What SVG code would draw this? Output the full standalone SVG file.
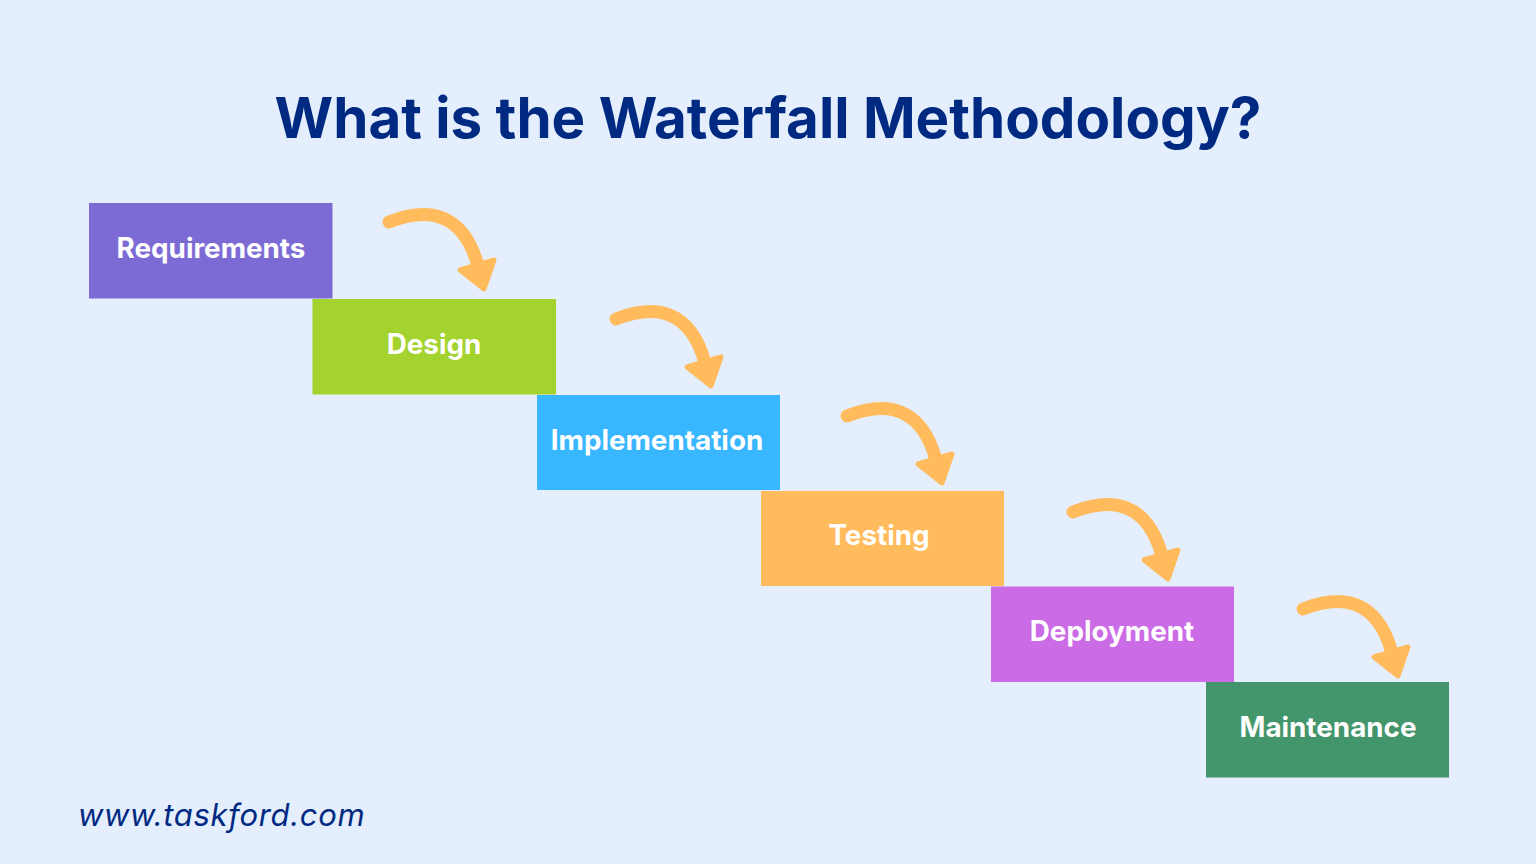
<svg xmlns="http://www.w3.org/2000/svg" xmlns:xlink="http://www.w3.org/1999/xlink" width="1536" height="864" viewBox="0 0 1536 864">
<style>
.t{font-family:Inter,"Liberation Sans",sans-serif;font-weight:700;font-size:27.800px;fill:#fff;text-anchor:middle}
.c{fill:none;stroke:#ffbb5c;stroke-width:13;stroke-linecap:round}
.h{fill:#ffbb5c;stroke:#ffbb5c;stroke-width:5;stroke-linejoin:round}
</style>
<defs><g id="arrow"><path class="c" d="M389 222C430 206 464 214 478 266"/><path class="h" d="M460 270L494 260L484 289Z"/></g></defs>
<rect width="1536" height="864" fill="#e4eefc"/>
<text id="title" x="768" y="138" text-anchor="middle" style="font-family:Inter,'Liberation Sans',sans-serif;font-weight:700;font-size:56.500px;fill:#002a82">What is the Waterfall Methodology?</text>
<g id="connectors">
<use href="#arrow"/><use href="#arrow" x="227" y="97"/><use href="#arrow" x="458" y="194"/><use href="#arrow" x="684" y="290"/><use href="#arrow" x="914" y="387"/>
</g>
<g id="n1"><rect x="89" y="203" width="243.500" height="95.500" fill="#7d6bd5"/><text class="t" x="211" y="258">Requirements</text></g>
<g id="n2"><rect x="312.500" y="299" width="243.500" height="95.500" fill="#a4d22e"/><text class="t" x="434" y="354">Design</text></g>
<g id="n3"><rect x="537" y="395" width="243" height="95" fill="#38b6ff"/><text class="t" x="657" y="450">Implementation</text></g>
<g id="n4"><rect x="761" y="491" width="243" height="95" fill="#ffbb5c"/><text class="t" x="879" y="545">Testing</text></g>
<g id="n5"><rect x="991" y="586.500" width="243" height="95.500" fill="#cb6ce6"/><text class="t" x="1112" y="641">Deployment</text></g>
<g id="n6"><rect x="1206" y="682" width="243" height="95.500" fill="#43956b"/><text class="t" x="1328" y="737">Maintenance</text></g>
<text id="url" x="78" y="826" style="font-family:Inter,'Liberation Sans',sans-serif;font-style:italic;font-size:31px;letter-spacing:.65px;fill:#002a82">www.taskford.com</text>
</svg>
